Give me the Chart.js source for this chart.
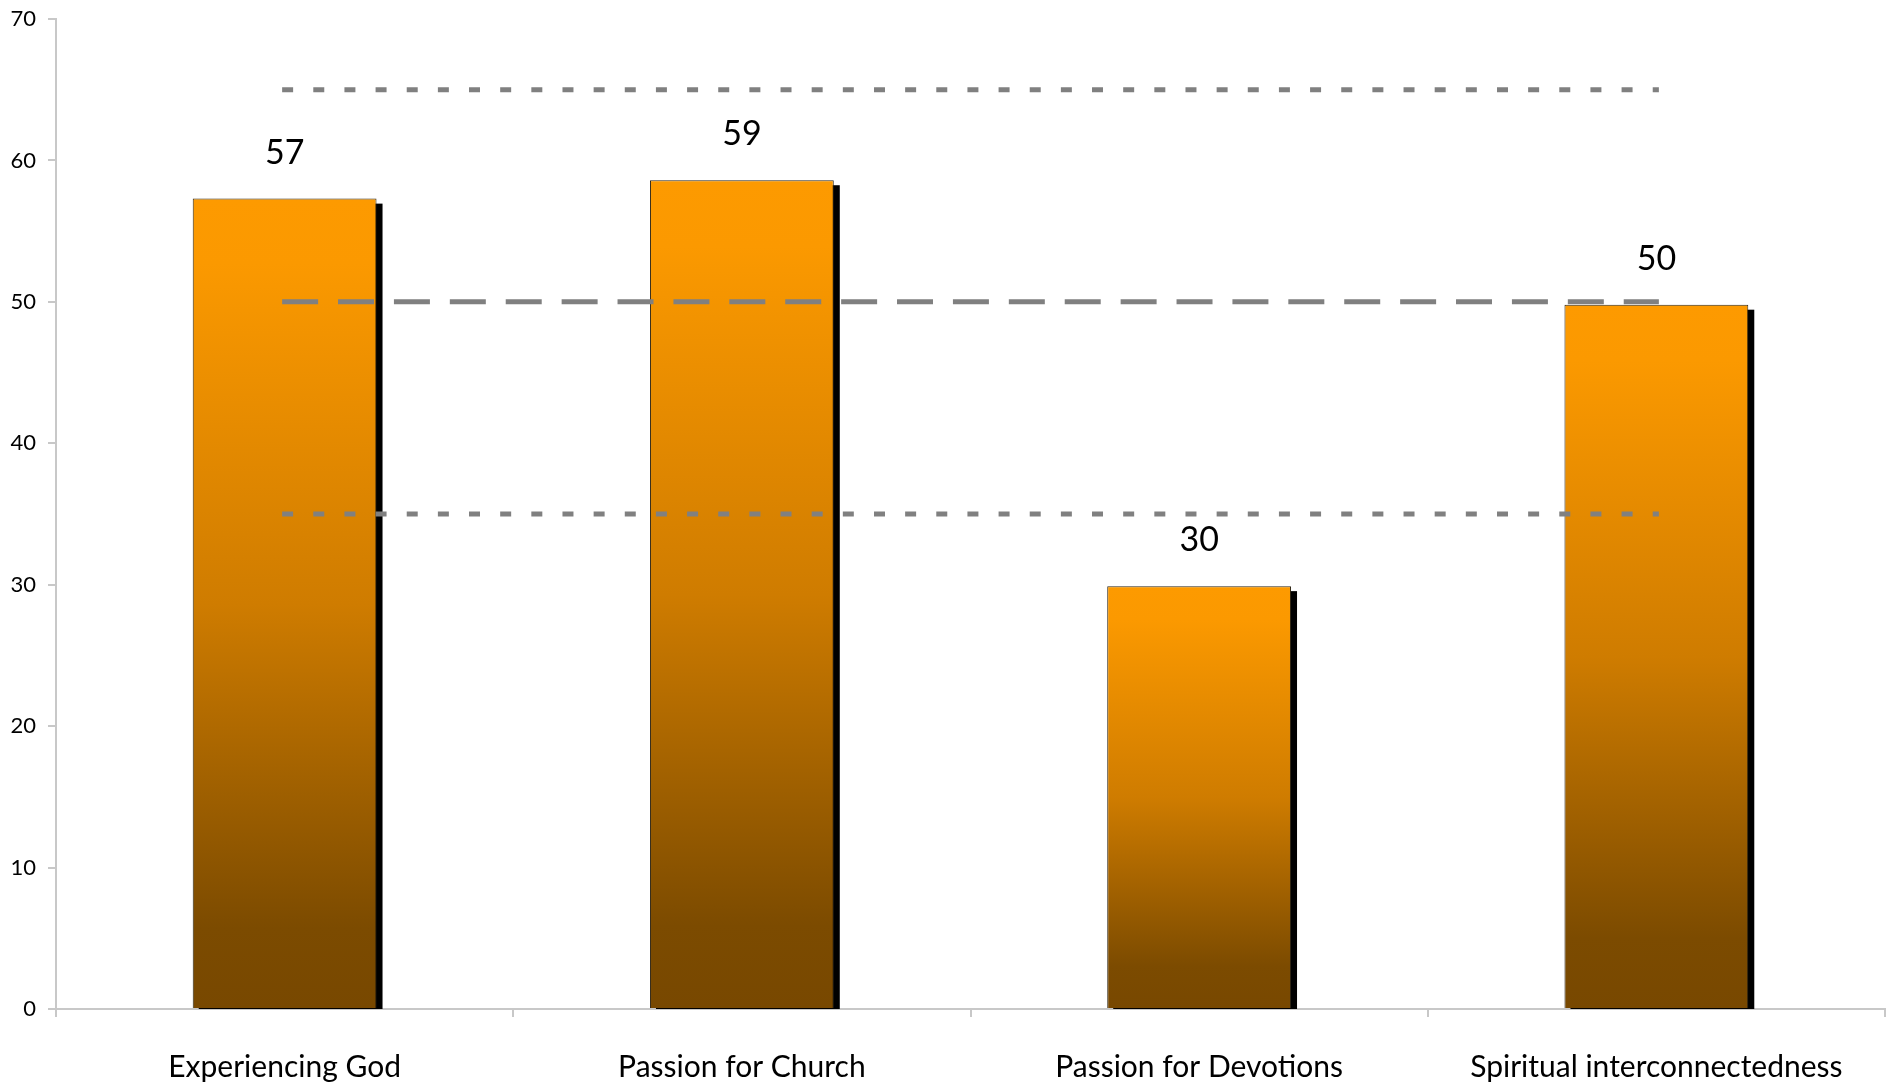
<!DOCTYPE html>
<html>
<head>
<meta charset="utf-8">
<script src="https://cdn.jsdelivr.net/npm/chart.js@4.4.1/dist/chart.umd.min.js"></script>
<style>
    html, body { margin: 0; padding: 0; background: #fff; }
    canvas { display: block; }
</style>
</head>
<body>
<canvas id="chart" width="1891" height="1085"></canvas>
<script>
const categories = ["Experiencing God", "Passion for Church", "Passion for Devotions", "Spiritual interconnectedness"];
const scores = [57.3, 58.6, 29.9, 49.8];
const upperLine = [65, 65, 65, 65];
const middleLine = [50, 50, 50, 50];
const lowerLine = [35, 35, 35, 35];
const yTicks = [0, 10, 20, 30, 40, 50, 60, 70];

const FONT = "Lato, 'Open Sans', sans-serif";

function barGradient(c) {
    const chart = c.chart;
    const area = chart.chartArea;
    if (!area || c.raw === undefined) return "#fb9900";
    const y = chart.scales.y;
    const top = y.getPixelForValue(c.raw);
    const bottom = y.getPixelForValue(0);
    const g = chart.ctx.createLinearGradient(0, top, 0, bottom);
    g.addColorStop(0, "#fd9a00");
    g.addColorStop(0.08, "#fb9900");
    g.addColorStop(0.5, "#cf7c00");
    g.addColorStop(0.9, "#7c4b00");
    g.addColorStop(1, "#784800");
    return g;
}

// black drop shadow behind the bars, taken from the bar elements
const barShadow = {
    id: "barShadow",
    beforeDatasetDraw(chart, args) {
        if (args.meta.type !== "bar") return;
        const ctx = chart.ctx;
        const area = chart.chartArea;
        ctx.save();
        ctx.beginPath();
        ctx.rect(area.left, area.top, area.right - area.left, area.bottom - area.top);
        ctx.clip();
        ctx.fillStyle = "#000";
        args.meta.data.forEach(el => {
            const { x, y, base, width } = el.getProps(["x", "y", "base", "width"], true);
            ctx.fillRect(x - width / 2 + 6, y + 5, width, base - y);
        });
        ctx.restore();
    }
};

// value labels above the bars
const valueLabels = {
    id: "valueLabels",
    afterDatasetsDraw(chart) {
        const ctx = chart.ctx;
        chart.data.datasets.forEach((ds, i) => {
            const meta = chart.getDatasetMeta(i);
            if (meta.type !== "bar") return;
            ctx.save();
            ctx.font = "34px " + FONT;
            ctx.fillStyle = "#000";
            ctx.textAlign = "center";
            ctx.textBaseline = "middle";
            meta.data.forEach((el, j) => {
                ctx.fillText(Math.round(ds.data[j]), el.x, el.y - 46);
            });
            ctx.restore();
        });
    }
};

const refLine = (data, dash) => ({
    type: "line",
    data: data,
    borderColor: "#808080",
    borderWidth: 5,
    borderDash: dash,
    borderCapStyle: "square",
    pointRadius: 0,
    fill: false,
    order: 1
});

new Chart(document.getElementById("chart"), {
    data: {
        labels: categories,
        datasets: [
            refLine(upperLine, [6, 25.15]),
            refLine(middleLine, [31, 24.9]),
            refLine(lowerLine, [6, 25.15]),
            {
                type: "bar",
                data: scores,
                backgroundColor: barGradient,
                borderColor: "#2e2616",
                borderWidth: 1,
                categoryPercentage: 1,
                barPercentage: 0.402,
                clip: 0,
                order: 3
            }
        ]
    },
    plugins: [barShadow, valueLabels],
    options: {
        responsive: false,
        animation: false,
        layout: { padding: { top: 19, right: 6, left: 0, bottom: 0 } },
        plugins: {
            legend: { display: false },
            tooltip: { enabled: false }
        },
        scales: {
            x: {
                offset: true,
                grid: {
                    offset: true,
                    drawOnChartArea: false,
                    tickLength: 8,
                    color: "#c8c8c8",
                    lineWidth: 2
                },
                border: { color: "#c8c8c8", width: 2 },
                ticks: {
                    color: "#000",
                    font: { family: FONT, size: 30 },
                    padding: 32,
                    maxRotation: 0
                },
                afterFit(scale) {
                    scale.height = 76;
                    scale.paddingLeft = 0;
                    scale.paddingRight = 0;
                }
            },
            y: {
                min: 0,
                max: 70,
                afterBuildTicks(scale) { scale.ticks = yTicks.map(v => ({ value: v })); },
                grid: {
                    drawOnChartArea: false,
                    tickLength: 8,
                    color: "#c8c8c8",
                    lineWidth: 2
                },
                border: { color: "#c8c8c8", width: 2 },
                ticks: {
                    color: "#000",
                    font: { family: FONT, size: 22 },
                    padding: 12
                },
                afterFit(scale) {
                    scale.width = 56;
                    scale.paddingTop = 0;
                    scale.paddingBottom = 0;
                }
            }
        }
    }
});
</script>
</body>
</html>
